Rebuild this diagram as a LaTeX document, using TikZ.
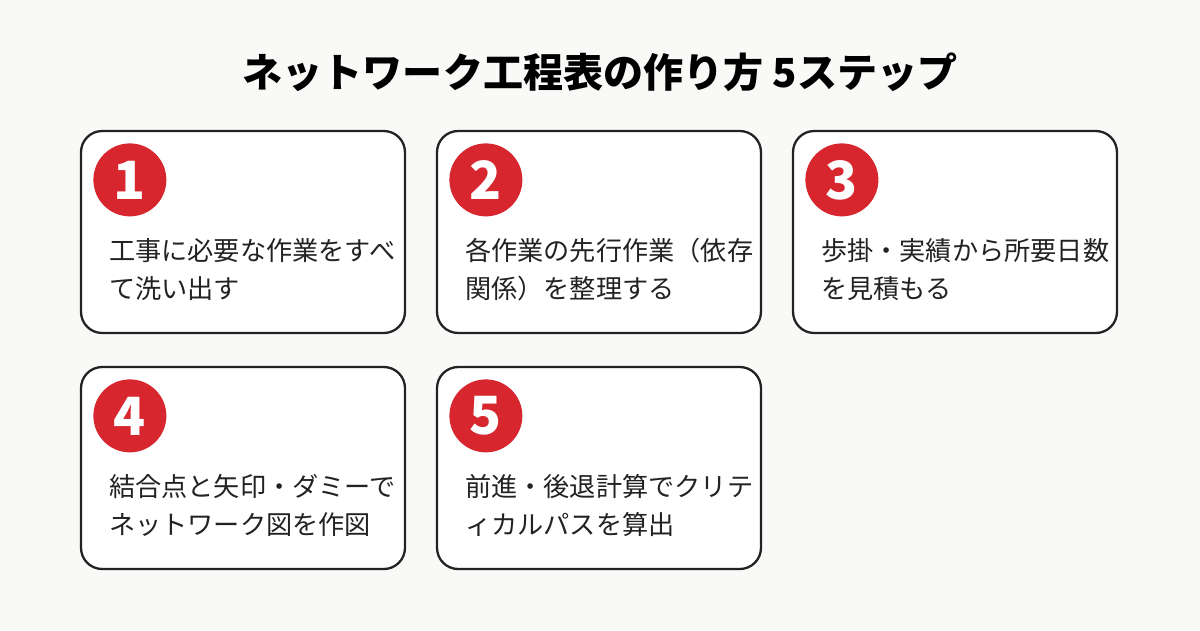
\documentclass[tikz,border=0pt]{standalone}
\usepackage{fontspec}
\setmainfont{Noto Sans CJK JP}
\usepackage{xcolor}
\usetikzlibrary{positioning}
\definecolor{bgpaper}{HTML}{F9F9F7}
\definecolor{stepred}{HTML}{D7262E}
\definecolor{boxline}{HTML}{222222}

\begin{document}
\begin{tikzpicture}[
    x=0.02cm, y=-0.02cm,
    card/.style={
        draw=boxline,
        line width=1.3pt,
        rounded corners=12pt,
        fill=white,
        minimum width=6.48cm,
        minimum height=4.04cm
    },
    badge/.style={circle, fill=stepred, minimum size=1.46cm, inner sep=0pt,
        text=white, font=\fontsize{30}{30}\selectfont\bfseries},
    desc/.style={anchor=north west, align=left, inner sep=0pt,
        font=\fontsize{14.9}{21.6}\selectfont, text=boxline}
]
\fill[bgpaper] (0,0) rectangle (1200,630);

\node[font=\fontsize{22.8}{26}\selectfont\bfseries] (title) at (600,72) {ネットワーク工程表の作り方 5ステップ};

\node[card] (card1) at (243,232) {};
\node[card] (card2) at (599,232) {};
\node[card] (card3) at (955,232) {};
\node[card] (card4) at (243,468) {};
\node[card] (card5) at (599,468) {};

\node[badge] (num1) at ([xshift=1.0cm,yshift=-1.0cm]card1.north west) {1};
\node[badge] (num2) at ([xshift=1.0cm,yshift=-1.0cm]card2.north west) {2};
\node[badge] (num3) at ([xshift=1.0cm,yshift=-1.0cm]card3.north west) {3};
\node[badge] (num4) at ([xshift=1.0cm,yshift=-1.0cm]card4.north west) {4};
\node[badge] (num5) at ([xshift=1.0cm,yshift=-1.0cm]card5.north west) {5};

\node[desc] (text1) at ([xshift=0.58cm,yshift=-2.16cm]card1.north west) {工事に必要な作業をすべ\\て洗い出す};
\node[desc] (text2) at ([xshift=0.58cm,yshift=-2.16cm]card2.north west) {各作業の先行作業（依存\\関係）を整理する};
\node[desc] (text3) at ([xshift=0.58cm,yshift=-2.16cm]card3.north west) {歩掛・実績から所要日数\\を見積もる};
\node[desc] (text4) at ([xshift=0.58cm,yshift=-2.16cm]card4.north west) {結合点と矢印・ダミーで\\ネットワーク図を作図};
\node[desc] (text5) at ([xshift=0.58cm,yshift=-2.16cm]card5.north west) {前進・後退計算でクリテ\\ィカルパスを算出};
\end{tikzpicture}
\end{document}
